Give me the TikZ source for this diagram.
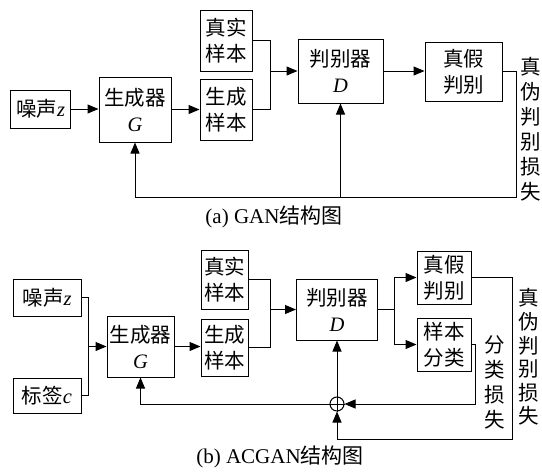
\documentclass[tikz,border=0pt]{standalone}
\usepackage{fontspec}
\setmainfont{Liberation Serif}
\newfontfamily\cjk{Noto Sans CJK SC}
\usetikzlibrary{arrows.meta}
\newcommand\zh[1]{{\cjk #1}}
\begin{document}
\begin{tikzpicture}[x=1pt,y=-1pt,
  box/.style={draw, line width=1pt, inner sep=0pt, align=center, font=\fontsize{20.5}{26}\selectfont},
  ln/.style={line width=1pt},
  arr/.style={line width=1pt, -{Triangle[length=11pt,width=9pt]}},
  vtext/.style={align=center, inner sep=0pt, font=\cjk\fontsize{20.5}{25}\selectfont},
  captext/.style={inner sep=0pt, font=\fontsize{21}{24}\selectfont}]
\useasboundingbox (0,0) rectangle (542,472);
% ---------- (a) GAN ----------
\node[box, minimum width=60pt, minimum height=38pt] (n1) at (40.7,109) {\zh{噪声}\textit{z}};
\node[box, minimum width=72pt, minimum height=65pt] (g1) at (135,109.5) {\zh{生成器}\\\textit{G}};
\node[box, minimum width=52pt, minimum height=61pt] (r1) at (226,40.5) {\zh{真实}\\\zh{样本}};
\node[box, minimum width=52pt, minimum height=61pt] (f1) at (226,109.5) {\zh{生成}\\\zh{样本}};
\node[box, minimum width=85pt, minimum height=64pt] (d1) at (340.5,71) {\zh{判别器}\\\textit{D}};
\node[box, minimum width=77pt, minimum height=59pt] (t1) at (463.5,71.5) {\zh{真假}\\\zh{判别}};
\coordinate (j1) at (270,0);
\coordinate (c1) at (516,197);
\draw[arr] (n1.east) -- (n1.east -| g1.west);
\draw[arr] (g1.east) -- (g1.east -| f1.west);
\draw[ln] (r1.east) -- (r1.east -| j1) -- (f1.east -| j1) -- (f1.east);
\draw[arr] (j1 |- d1.west) -- (d1.west);
\draw[arr] (d1.east) -- (d1.east -| t1.west);
\draw[arr] (t1.east) -| (c1) -| (g1.south);
\draw[arr] (c1 -| d1.south) -- (d1.south);
\node[vtext] (l1) at (531,129.5) {真\\伪\\判\\别\\损\\失};
\node[captext] (cap1) at (274,217) {(a) GAN\zh{结构图}};
% ---------- (b) ACGAN ----------
\node[box, minimum width=68pt, minimum height=37pt] (n2) at (47,297.5) {\zh{噪声}\textit{z}};
\node[box, minimum width=68pt, minimum height=35pt] (l2) at (47,395.5) {\zh{标签}\textit{c}};
\node[box, minimum width=67pt, minimum height=61pt] (g2) at (140.5,346.5) {\zh{生成器}\\\textit{G}};
\node[box, minimum width=47pt, minimum height=59pt] (r2) at (224.5,279.5) {\zh{真实}\\\zh{样本}};
\node[box, minimum width=47pt, minimum height=57pt] (f2) at (224.5,347.5) {\zh{生成}\\\zh{样本}};
\node[box, minimum width=81pt, minimum height=61pt] (d2) at (337,309.5) {\zh{判别器}\\\textit{D}};
\node[box, minimum width=54pt, minimum height=53pt] (t2) at (444,277.5) {\zh{真假}\\\zh{判别}};
\node[box, minimum width=54pt, minimum height=53pt] (s2) at (444,344.5) {\zh{样本}\\\zh{分类}};
\node[draw, circle, line width=1pt, minimum size=14pt, inner sep=0pt] (p) at (337,404) {};
\draw[line width=0.8pt] (p.north) -- (p.south) (p.west) -- (p.east);
\coordinate (j2) at (88,0);
\coordinate (j3) at (270,0);
\coordinate (j4) at (394,0);
\coordinate (c2) at (475,404);
\coordinate (c3) at (512,439);
\draw[ln] (n2.east) -- (n2.east -| j2) -- (l2.east -| j2) -- (l2.east);
\draw[arr] (j2 |- g2.west) -- (g2.west);
\draw[arr] (g2.east) -- (g2.east -| f2.west);
\draw[ln] (r2.east) -- (r2.east -| j3) -- (f2.east -| j3) -- (f2.east);
\draw[arr] (j3 |- d2.west) -- (d2.west);
\draw[ln] (d2.east) -- (d2.east -| j4);
\draw[arr] (d2.east -| j4) |- (t2.west);
\draw[arr] (d2.east -| j4) |- (s2.west);
\draw[arr] (s2.east) -| (c2) -- (p.east);
\draw[arr] (p.north) -- (d2.south);
\draw[arr] (p.west) -| (g2.south);
\draw[arr] (t2.east) -| (c3) -| (p.south);
\node[vtext] (l3) at (495,382.5) {分\\类\\损\\失};
\node[vtext, font=\cjk\fontsize{20.5}{23.6}\selectfont] (l4) at (529,357) {真\\伪\\判\\别\\损\\失};
\node[captext] (cap2) at (280,457) {(b) ACGAN\zh{结构图}};
\end{tikzpicture}
\end{document}
